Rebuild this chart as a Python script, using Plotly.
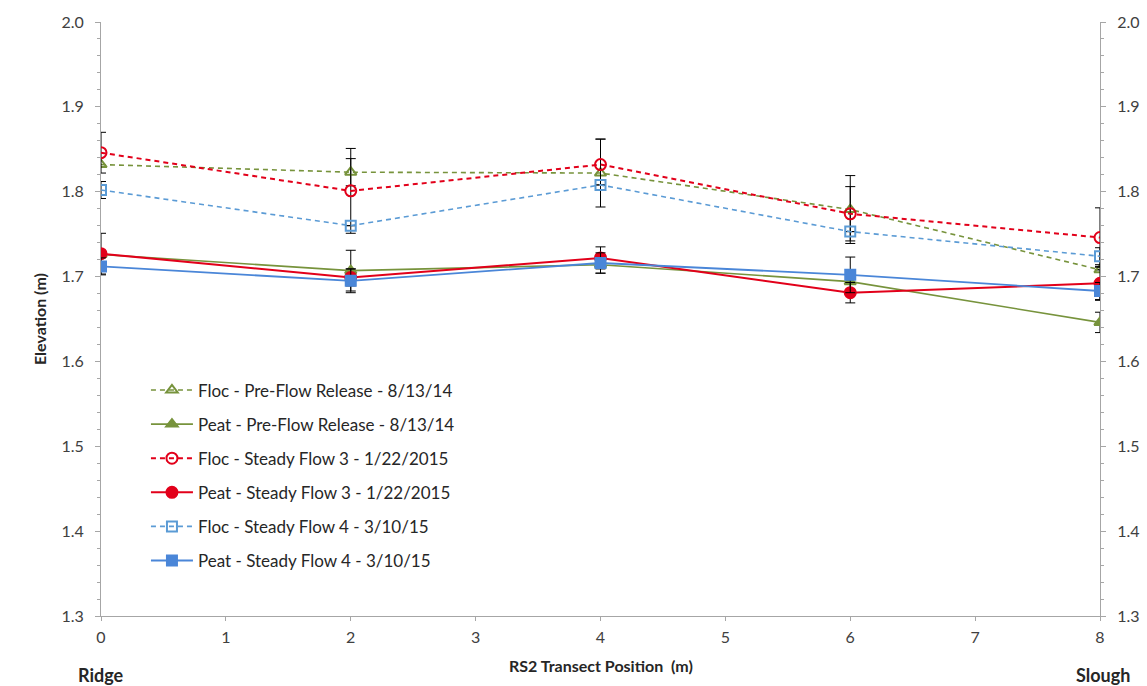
import plotly.graph_objects as go

# ---- data ----
positions = [0, 2, 4, 6, 8]

floc_pre = [1.832, 1.823, 1.822, 1.779, 1.708]
peat_pre = [1.726, 1.707, 1.714, 1.694, 1.646]
floc_sf3 = [1.846, 1.801, 1.832, 1.774, 1.746]
peat_sf3 = [1.727, 1.699, 1.722, 1.681, 1.692]
floc_sf4 = [1.802, 1.760, 1.808, 1.753, 1.724]
peat_sf4 = [1.712, 1.695, 1.716, 1.702, 1.683]

floc_pre_err = [0.0, 0.016, 0.040, 0.040, 0.0]
peat_pre_err = [0.0, 0.024, 0.010, 0.010, 0.012]
floc_sf3_err = [0.024, 0.050, 0.030, 0.032, 0.035]
peat_sf3_err = [0.024, 0.010, 0.013, 0.012, 0.020]
floc_sf4_err = [0.010, 0.0, 0.0, 0.0, 0.010]
peat_sf4_err = [0.010, 0.014, 0.012, 0.021, 0.010]

names = [
    "Floc - Pre-Flow Release - 8/13/14",
    "Peat - Pre-Flow Release - 8/13/14",
    "Floc - Steady Flow 3 - 1/22/2015",
    "Peat - Steady Flow 3 - 1/22/2015",
    "Floc - Steady Flow 4 - 3/10/15",
    "Peat - Steady Flow 4 - 3/10/15",
]
y_values = [floc_pre, peat_pre, floc_sf3, peat_sf3, floc_sf4, peat_sf4]
errors = [floc_pre_err, peat_pre_err, floc_sf3_err, peat_sf3_err, floc_sf4_err, peat_sf4_err]

GREEN = "#77933C"
RED = "#E2001A"
BLUE_D = "#5B9BD5"
BLUE = "#4A86D8"

styles = [
    dict(color=GREEN, dash="dash", symbol="triangle-up-open", size=10, lw=1.6),
    dict(color=GREEN, dash="solid", symbol="triangle-up", size=10, lw=1.6),
    dict(color=RED, dash="dash", symbol="circle-open", size=11, lw=2.0),
    dict(color=RED, dash="solid", symbol="circle", size=11, lw=2.0),
    dict(color=BLUE_D, dash="dash", symbol="square-open", size=10, lw=1.6),
    dict(color=BLUE, dash="solid", symbol="square", size=10, lw=1.8),
]

fig = go.Figure()
for i, (nm, yv, er, st) in enumerate(zip(names, y_values, errors, styles)):
    fig.add_trace(go.Scatter(
        x=positions, y=yv, name=nm, mode="lines+markers",
        legendgroup="g%d" % i,
        line=dict(color=st["color"], width=st["lw"],
                  dash="5px,4px" if st["dash"] == "dash" else "solid"),
        marker=dict(symbol=st["symbol"], size=st["size"], color=st["color"],
                    line=dict(color=st["color"], width=2)),
        error_y=dict(type="data", array=er, visible=True,
                     color="#000000", thickness=1, width=5),
    ))

FONT = "Lato, Carlito, Calibri, sans-serif"
axis_font = dict(family=FONT, size=16, color="#404040")

yaxis_common = dict(
    range=[1.3, 2.0], dtick=0.1, tick0=1.3, tickformat=".1f",
    showline=True, linecolor="#A6A6A6", linewidth=1,
    ticks="outside", ticklen=5, tickcolor="#A6A6A6",
    minor=dict(ticks="outside", dtick=0.02, ticklen=3, tickcolor="#A6A6A6"),
    showgrid=False, zeroline=False, automargin=False,
    tickfont=axis_font, ticklabelstandoff=8,
)

fig.update_layout(
    width=1147, height=686,
    margin=dict(l=101, r=47, t=22, b=70),
    paper_bgcolor="white", plot_bgcolor="white",
    font=dict(family=FONT, size=15, color="#404040"),
    showlegend=True,
    legend=dict(
        x=0.045, y=0.41, xanchor="left", yanchor="top",
        bgcolor="rgba(255,255,255,0)",
        font=dict(family=FONT, size=17, color="#262626"),
        traceorder="grouped", tracegroupgap=9,
        itemwidth=42,
    ),
    xaxis=dict(
        range=[0, 8], dtick=1, tick0=0,
        showline=True, linecolor="#A6A6A6", linewidth=1,
        ticks="outside", ticklen=4, tickcolor="#A6A6A6",
        showgrid=False, zeroline=False, automargin=False,
        tickfont=axis_font, ticklabelstandoff=3,
    ),
    yaxis=yaxis_common,
    yaxis2=dict(yaxis_common, overlaying="y", side="right", anchor="x"),
    annotations=[
        dict(text="<b>Elevation (m)</b>", textangle=-90, xref="paper", yref="paper",
             x=-0.062, y=0.5, xanchor="center", yanchor="middle", showarrow=False,
             font=dict(family=FONT, size=16, color="#262626")),
        dict(text="<b>RS2 Transect Position  (m)</b>", xref="paper", yref="paper",
             x=0.5, y=-0.083, xanchor="center", yanchor="middle", showarrow=False,
             font=dict(family=FONT, size=16, color="#262626")),
        dict(text="<b>Ridge</b>", xref="paper", yref="paper",
             x=0.0, y=-0.1, xanchor="center", yanchor="middle", showarrow=False,
             font=dict(family=FONT, size=18, color="#262626")),
        dict(text="<b>Slough</b>", xref="paper", yref="paper",
             x=1.003, y=-0.1, xanchor="center", yanchor="middle", showarrow=False,
             font=dict(family=FONT, size=18, color="#262626")),
    ],
)
# invisible trace to bind the right axis
fig.add_trace(go.Scatter(x=[positions[0]], y=[floc_pre[0]], yaxis="y2", showlegend=False,
                         mode="markers", marker=dict(opacity=0), hoverinfo="skip"))

fig.write_html("out.html")
